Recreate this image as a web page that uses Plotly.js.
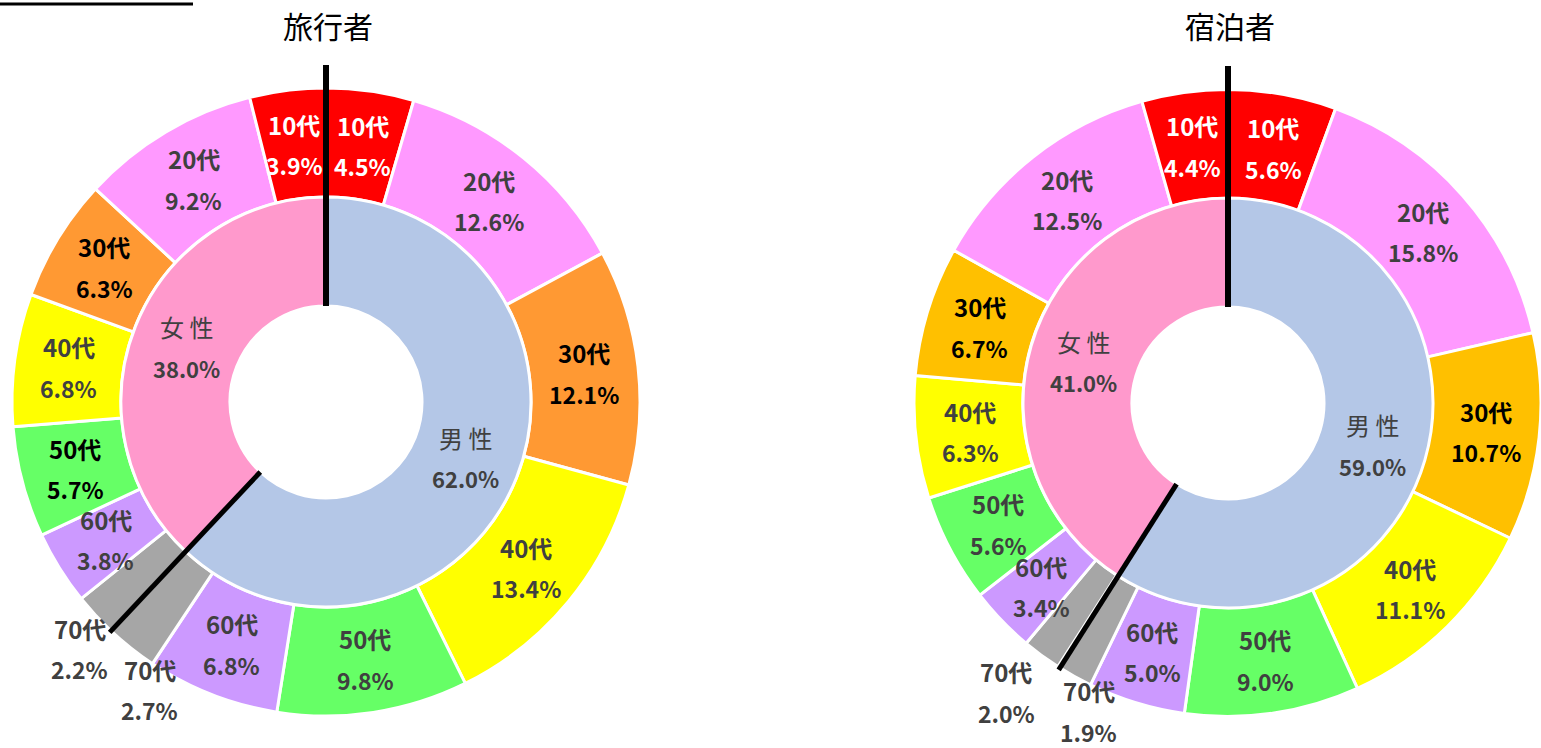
<!DOCTYPE html>
<html>
<head>
<meta charset="utf-8">
<script src="https://cdn.plot.ly/plotly-3.0.1.min.js"></script>
<style>
  html, body { margin: 0; padding: 0; background: #fff; }
  #chart { width: 1541px; height: 748px; }
</style>
</head>
<body>
<div id="chart"></div>
<script>
// ---------- DATA ----------
const chartTitles = ['旅行者', '宿泊者'];
const genderLabels = ['男性', '女性'];
const ageLabels = ['10代', '20代', '30代', '40代', '50代', '60代', '70代'];

const travelerGender = [62.0, 38.0];
const travelerMale   = [4.5, 12.6, 12.1, 13.4, 9.8, 6.8, 2.7];   // 10代 → 70代
const travelerFemale = [3.9, 9.2, 6.3, 6.8, 5.7, 3.8, 2.2];      // 10代 → 70代

const stayGender = [59.0, 41.0];
const stayMale   = [5.6, 15.8, 10.7, 11.1, 9.0, 5.0, 1.9];
const stayFemale = [4.4, 12.5, 6.7, 6.3, 5.6, 3.4, 2.0];

// ---------- STYLE ----------
const W = 1541, H = 748;
const genderColors = ['#B4C7E7', '#FF99CC'];
const ageColorsTraveler = ['#FF0000', '#FF99FF', '#FF9933', '#FFFF00', '#66FF66', '#CC99FF', '#A6A6A6'];
const ageColorsStay     = ['#FF0000', '#FF99FF', '#FFC000', '#FFFF00', '#66FF66', '#CC99FF', '#A6A6A6'];
const GRAY = '#404040';
const ageTextColor = ['#FFFFFF', GRAY, '#000000', GRAY, GRAY, GRAY, GRAY];
const FONT = '"Noto Sans CJK JP", "Noto Sans", sans-serif';

const charts = [
  { title: chartTitles[0], gender: travelerGender, male: travelerMale, female: travelerFemale,
    colors: ageColorsTraveler, cx: 326, cy: 402,
    femaleTextOverride: { '50代': '#000000' },
    nudge: { 'M70代': [38, 17], 'F70代': [7, 12] } },
  { title: chartTitles[1], gender: stayGender, male: stayMale, female: stayFemale,
    colors: ageColorsStay, cx: 1228, cy: 403,
    femaleTextOverride: {},
    nudge: { 'M70代': [30, 7], 'F70代': [-17, 11], 'F60代': [0, 3] } }
];
const R_OUT = 314, R_MID = 205, R_HOLE = 96;
const R_LINE_TOP = 337;
const OUTSIDE = ['70代'];

const px = x => x / W;
const py = y => 1 - y / H;

const data = [];
const annotations = [];
const shapes = [];

function polar(c, r, frac) {
  const a = frac * 2 * Math.PI;
  return [c.cx + r * Math.sin(a), c.cy - r * Math.cos(a)];
}

function addLabel(x, y, line1, line2, color, size1, size2, boldFirst) {
  annotations.push({
    xref: 'paper', yref: 'paper', x: px(x), y: py(y), xanchor: 'center', yanchor: 'middle',
    text: boldFirst ? '<b>' + line1 + '</b>' : line1, showarrow: false, yshift: 20,
    font: { family: FONT, size: size1, color: color }
  });
  annotations.push({
    xref: 'paper', yref: 'paper', x: px(x), y: py(y), xanchor: 'center', yanchor: 'middle',
    text: '<b>' + line2 + '</b>', showarrow: false, yshift: -21,
    font: { family: FONT, size: size2, color: color }
  });
}

charts.forEach(c => {
  // outer ring order: male 10代→70代, then female 70代→10代 (clockwise)
  const outerVals = c.male.concat(c.female.slice().reverse());
  const outerLabels = ageLabels.map(a => '男性 ' + a).concat(ageLabels.slice().reverse().map(a => '女性 ' + a));
  const outerColors = c.colors.concat(c.colors.slice().reverse());

  data.push({
    type: 'pie', values: outerVals, labels: outerLabels, sort: false, direction: 'clockwise',
    rotation: 0, hole: R_MID / R_OUT, textinfo: 'none', hoverinfo: 'label+value',
    marker: { colors: outerColors, line: { color: '#FFFFFF', width: 3 } },
    domain: { x: [px(c.cx - R_OUT), px(c.cx + R_OUT)], y: [py(c.cy + R_OUT), py(c.cy - R_OUT)] },
    showlegend: false
  });
  data.push({
    type: 'pie', values: c.gender, labels: genderLabels, sort: false, direction: 'clockwise',
    rotation: 0, hole: R_HOLE / R_MID, textinfo: 'none', hoverinfo: 'label+value',
    marker: { colors: genderColors, line: { color: '#FFFFFF', width: 3 } },
    domain: { x: [px(c.cx - R_MID), px(c.cx + R_MID)], y: [py(c.cy + R_MID), py(c.cy - R_MID)] },
    showlegend: false
  });

  // outer labels
  const total = outerVals.reduce((s, v) => s + v, 0);
  let cum = 0;
  outerVals.forEach((v, i) => {
    const mid = (cum + v / 2) / total;
    cum += v;
    const isMale = i < ageLabels.length;
    const ai = isMale ? i : (2 * ageLabels.length - 1 - i);
    const age = ageLabels[ai];
    const out = OUTSIDE.includes(age);
    let [x, y] = polar(c, out ? 345 : (R_MID + R_OUT) / 2, mid);
    const key = (isMale ? 'M' : 'F') + age;
    if (c.nudge[key]) { x += c.nudge[key][0]; y += c.nudge[key][1]; }
    let color = ageTextColor[ai];
    if (!isMale && c.femaleTextOverride[age]) color = c.femaleTextOverride[age];
    addLabel(x, y, age, v.toFixed(1) + '%', color, 24, 23, true);
  });

  // inner labels
  const gTotal = c.gender.reduce((s, v) => s + v, 0);
  let gcum = 0;
  c.gender.forEach((v, i) => {
    const mid = (gcum + v / 2) / gTotal;
    gcum += v;
    const [x, y] = polar(c, (R_HOLE + R_MID) / 2, mid);
    addLabel(x, y, genderLabels[i].split('').join(' '), v.toFixed(1) + '%', GRAY, 24, 22, false);
  });

  // title
  annotations.push({
    xref: 'paper', yref: 'paper', x: px(c.cx + 2), y: py(25), xanchor: 'center', yanchor: 'middle',
    text: c.title, showarrow: false, font: { family: FONT, size: 30, color: '#000000' }
  });

  // black divider lines: top (start) and male/female boundary
  const [x0, y0] = polar(c, R_HOLE, 0);
  const [x1, y1] = polar(c, R_LINE_TOP, 0);
  shapes.push({ type: 'line', xref: 'paper', yref: 'paper', x0: px(x0), y0: py(y0), x1: px(x1), y1: py(y1),
    line: { color: '#000000', width: 6 } });
  const bFrac = c.gender[0] / gTotal;
  const [x2, y2] = polar(c, R_HOLE, bFrac);
  const [x3, y3] = polar(c, R_OUT + 2, bFrac);
  shapes.push({ type: 'line', xref: 'paper', yref: 'paper', x0: px(x2), y0: py(y2), x1: px(x3), y1: py(y3),
    line: { color: '#000000', width: 5 } });
});

// cropped heading underline at top-left
shapes.push({ type: 'line', xref: 'paper', yref: 'paper', x0: 0, y0: py(4), x1: px(193), y1: py(4),
  line: { color: '#000000', width: 3 } });

const layout = {
  width: W, height: H,
  margin: { l: 0, r: 0, t: 0, b: 0 },
  paper_bgcolor: '#FFFFFF', plot_bgcolor: '#FFFFFF',
  showlegend: false,
  annotations: annotations,
  shapes: shapes,
  font: { family: FONT }
};

Plotly.newPlot('chart', data, layout, { displayModeBar: false, staticPlot: true });
</script>
</body>
</html>
